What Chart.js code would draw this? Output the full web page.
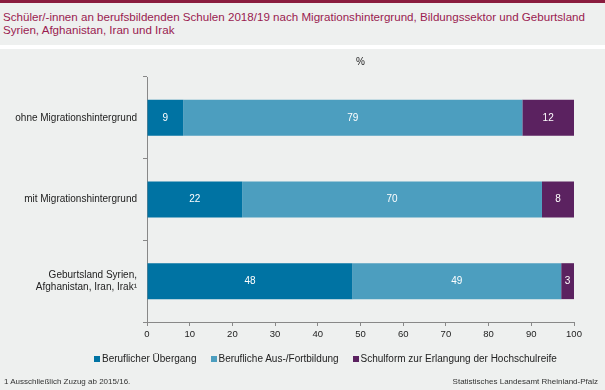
<!DOCTYPE html>
<html>
<head>
<meta charset="utf-8">
<title>Schüler/-innen an berufsbildenden Schulen 2018/19</title>
<script src="https://cdn.jsdelivr.net/npm/chart.js"></script>
<style>
    body {
        margin: 0;
        width: 605px;
        height: 390px;
        background: #ffffff;
        font-family: "Liberation Sans", Arial, sans-serif;
        position: relative;
        overflow: hidden;
    }
    .topline { position: absolute; left: 0; top: 0; width: 605px; height: 3px; background: #8a1c3e; }
    .titlebox {
        position: absolute; left: 0; top: 3px; width: 605px; height: 42px;
        background: #eef0ef;
    }
    .titlebox div {
        position: absolute; left: 3px; top: 7px;
        font-size: 11.6px; line-height: 13px; color: #9a1b50;
        white-space: nowrap;
    }
    .panel {
        position: absolute; left: 0; top: 49px; width: 605px; height: 341px;
        background: #eef0ef;
    }
    #chart { position: absolute; left: 0; top: 0; }
    .legend {
        position: absolute; top: 304px; left: 94px;
        font-size: 10px; color: #222;
        white-space: nowrap;
    }
    .legend span.item { display: inline-block; margin-right: 14px; }
    .legend span.box {
        display: inline-block; width: 6px; height: 6px; margin-right: 2px;
        vertical-align: 0px;
    }
    .foot {
        position: absolute; top: 328px; font-size: 8px; color: #333;
    }
</style>
</head>
<body>
<div class="topline"></div>
<div class="titlebox"><div>Schüler/-innen an berufsbildenden Schulen 2018/19 nach Migrationshintergrund, Bildungssektor und Geburtsland<br>Syrien, Afghanistan, Iran und Irak</div></div>
<div class="panel">
    <canvas id="chart" width="605" height="341"></canvas>
    <div class="legend" id="legend"></div>
    <div class="foot" style="left:4px">1 Ausschließlich Zuzug ab 2015/16.</div>
    <div class="foot" style="right:7px">Statistisches Landesamt Rheinland-Pfalz</div>
</div>
<script>
    const categories = [
        'ohne Migrationshintergrund',
        'mit Migrationshintergrund',
        ['Geburtsland Syrien,', 'Afghanistan, Iran, Irak¹']
    ];
    const seriesNames = ['Beruflicher Übergang', 'Berufliche Aus-/Fortbildung', 'Schulform zur Erlangung der Hochschulreife'];
    const uebergang = [8.5, 22.3, 48.1];
    const ausbildung = [79.4, 70.2, 48.9];
    const hochschulreife = [12.1, 7.5, 3.0];
    const colors = ['#0073a3', '#4c9ebf', '#5b2260'];
    const unitLabel = '%';

    // white value labels inside each segment
    const valueLabels = {
        id: 'valueLabels',
        afterDatasetsDraw(chart) {
            const ctx = chart.ctx;
            ctx.save();
            ctx.font = '10px "Liberation Sans", Arial, sans-serif';
            ctx.fillStyle = '#ffffff';
            ctx.textAlign = 'center';
            ctx.textBaseline = 'middle';
            chart.data.datasets.forEach((ds, i) => {
                chart.getDatasetMeta(i).data.forEach((bar, j) => {
                    const cx = (bar.x + bar.base) / 2;
                    ctx.fillText(Math.round(ds.data[j]), cx, bar.y);
                });
            });
            // unit label above the plot
            const area = chart.chartArea;
            ctx.fillStyle = '#222';
            ctx.fillText(unitLabel, (area.left + area.right) / 2, 13);
            ctx.restore();
        }
    };

    new Chart(document.getElementById('chart'), {
        type: 'bar',
        data: {
            labels: categories,
            datasets: [uebergang, ausbildung, hochschulreife].map((d, i) => ({
                label: seriesNames[i],
                data: d,
                backgroundColor: colors[i],
                barPercentage: 0.44,
                categoryPercentage: 1
            }))
        },
        options: {
            indexAxis: 'y',
            responsive: false,
            animation: false,
            layout: { padding: { top: 28, left: 0, right: 31, bottom: 50 } },
            plugins: {
                legend: { display: false },
                tooltip: { enabled: false }
            },
            scales: {
                x: {
                    stacked: true,
                    min: 0,
                    max: 100,
                    ticks: { stepSize: 10, color: '#222', font: { size: 9.5 }, padding: 3, maxRotation: 0 },
                    grid: { drawOnChartArea: false, tickLength: 4, color: '#888' },
                    border: { color: '#888' },
                    afterFit(s) { s.height = 18; }
                },
                y: {
                    stacked: true,
                    ticks: { color: '#222', font: { size: 10 }, padding: 6 },
                    grid: { drawOnChartArea: false, tickLength: 4, color: '#888', offset: true },
                    border: { color: '#888' },
                    afterFit(s) { s.width = 147; }
                }
            }
        },
        plugins: [valueLabels]
    });

    document.getElementById('legend').innerHTML = seriesNames.map((n, i) =>
        '<span class="item"><span class="box" style="background:' + colors[i] + '"></span>' + n + '</span>'
    ).join('');
</script>
</body>
</html>
